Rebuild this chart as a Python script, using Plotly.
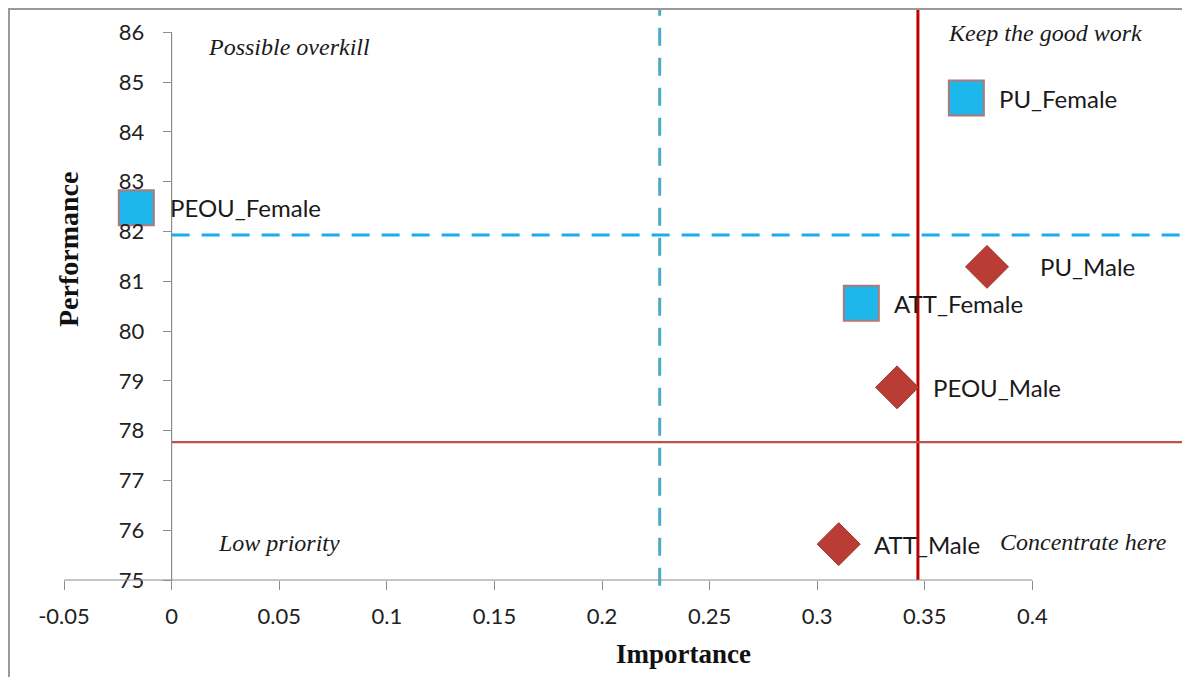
import plotly.graph_objects as go

# ---- data ----
female_names = ["PU_Female", "PEOU_Female", "ATT_Female"]
female_importance = [0.3693, -0.0164, 0.3205]
female_performance = [84.68, 82.48, 80.56]

male_names = ["PU_Male", "PEOU_Male", "ATT_Male"]
male_importance = [0.3789, 0.3371, 0.3100]
male_performance = [81.29, 78.87, 75.72]

mean_importance_female = 0.2268   # blue dashed vertical
mean_performance_female = 81.93   # blue dashed horizontal
mean_importance_male = 0.3468     # red vertical
mean_performance_male = 77.77     # red horizontal

x_ticks = [-0.05, 0, 0.05, 0.1, 0.15, 0.2, 0.25, 0.3, 0.35, 0.4]
x_tick_labels = ["-0.05", "0", "0.05", "0.1", "0.15", "0.2", "0.25", "0.3", "0.35", "0.4"]
y_ticks = [75, 76, 77, 78, 79, 80, 81, 82, 83, 84, 85, 86]

quadrant_labels = ["Possible overkill", "Keep the good work", "Low priority", "Concentrate here"]

XMIN, XMAX = -0.05, 0.4723
YMIN, YMAX = 75, 86.49

# page has an 8px body margin; figure positioned at (8, 8)
W, H = 1182, 669
L, R, T, B = 56, 2, 0, 97
PW, PH = W - L - R, H - T - B


def px(xs):  # screen x -> paper x
    return (xs - 8 - L) / PW


def py(ys):  # screen y -> paper y
    return (H - B - (ys - 8)) / PH


fig = go.Figure()

fig.add_trace(go.Scatter(
    x=female_importance, y=female_performance, mode="markers",
    marker=dict(symbol="square", size=35, color="#1DB7EC",
                line=dict(color="#B07878", width=2)),
    showlegend=False, hoverinfo="skip"))

fig.add_trace(go.Scatter(
    x=male_importance, y=male_performance, mode="markers",
    marker=dict(symbol="diamond", size=33, color="#BA3D35",
                line=dict(color="#9C2F29", width=1)),
    showlegend=False, hoverinfo="skip"))

label_font = dict(family="Lato, Open Sans, sans-serif", size=24, color="#1a1a1a")
shifts_f = [31, 32, 31]
shifts_m = [51, 34, 33]
for n, x, y, s in zip(female_names, female_importance, female_performance, shifts_f):
    fig.add_annotation(x=x, y=y, text=n, showarrow=False, xanchor="left",
                       yanchor="middle", xshift=s, font=label_font)
for n, x, y, s in zip(male_names, male_importance, male_performance, shifts_m):
    fig.add_annotation(x=x, y=y, text=n, showarrow=False, xanchor="left",
                       yanchor="middle", xshift=s, font=label_font)

# quadrant labels (screen positions of left edge / vertical centre)
qfont = dict(family="Liberation Serif, DejaVu Serif, serif", size=24, color="#1a1a1a")
q_pos = [(206, 47), (946, 33), (216, 543), (998, 542)]
for t, (xs, ys) in zip(quadrant_labels, q_pos):
    fig.add_annotation(xref="paper", yref="paper", x=px(xs), y=py(ys),
                       text="<i>%s</i>" % t, showarrow=False, xanchor="left",
                       yanchor="middle", font=qfont)

# axis titles
fig.add_annotation(xref="paper", yref="paper", x=px(683), y=py(654),
                   xanchor="center", yanchor="middle",
                   text="<b>Importance</b>", showarrow=False,
                   font=dict(family="Liberation Serif, serif", size=27, color="#111"))
fig.add_annotation(xref="paper", yref="paper", x=px(68), y=py(250),
                   xanchor="center", yanchor="middle",
                   text="<b>Performance</b>", showarrow=False, textangle=-90,
                   font=dict(family="Liberation Serif, serif", size=28, color="#111"))

shapes = []
# x axis line (ends at 0.4)
shapes.append(dict(type="line", xref="x", yref="paper", x0=-0.05, x1=0.4, y0=0, y1=0,
                   line=dict(color="#8c8c8c", width=1.2), layer="above"))
# y axis line at x=0
shapes.append(dict(type="line", xref="x", yref="y", x0=0, x1=0, y0=75, y1=86,
                   line=dict(color="#8c8c8c", width=1.2), layer="above"))
# reference lines
shapes.append(dict(type="line", xref="x", yref="paper", x0=mean_importance_female,
                   x1=mean_importance_female, y0=-0.01, y1=1,
                   line=dict(color="#4BACC6", width=3, dash="18px,12px"), layer="below"))
shapes.append(dict(type="line", xref="x", yref="y", x0=0, x1=XMAX,
                   y0=mean_performance_female, y1=mean_performance_female,
                   line=dict(color="#1AAEEA", width=3, dash="18px,12px"), layer="below"))
shapes.append(dict(type="line", xref="x", yref="paper", x0=mean_importance_male,
                   x1=mean_importance_male, y0=0, y1=1,
                   line=dict(color="#C00000", width=3), layer="below"))
shapes.append(dict(type="line", xref="x", yref="y", x0=0, x1=XMAX,
                   y0=mean_performance_male, y1=mean_performance_male,
                   line=dict(color="#C0504D", width=2.2), layer="below"))
# outer frame
shapes.append(dict(type="rect", xref="paper", yref="paper", x0=px(9),
                   x1=1.2, y0=-0.5, y1=py(9),
                   line=dict(color="#9a9a9a", width=2), layer="below"))

tick_font = dict(family="Lato, Open Sans, sans-serif", size=22, color="#222")
fig.update_layout(
    width=W, height=H, autosize=False,
    margin=dict(l=L, r=R, t=T, b=B),
    paper_bgcolor="white", plot_bgcolor="white",
    shapes=shapes,
    xaxis=dict(range=[XMIN, XMAX], tickvals=x_ticks, ticktext=x_tick_labels,
               showgrid=False, zeroline=False, showline=False,
               ticks="outside", ticklen=9, tickcolor="#8c8c8c", tickwidth=1.2,
               tickfont=tick_font, ticklabelstandoff=8),
    yaxis=dict(range=[YMIN, YMAX], tickvals=y_ticks, showgrid=False, zeroline=False,
               showline=False, anchor="free", position=(0 - XMIN) / (XMAX - XMIN),
               ticks="outside", ticklen=9, tickcolor="#8c8c8c", tickwidth=1.2,
               tickfont=tick_font, ticklabelstandoff=14),
)

fig.write_html("out.html")
